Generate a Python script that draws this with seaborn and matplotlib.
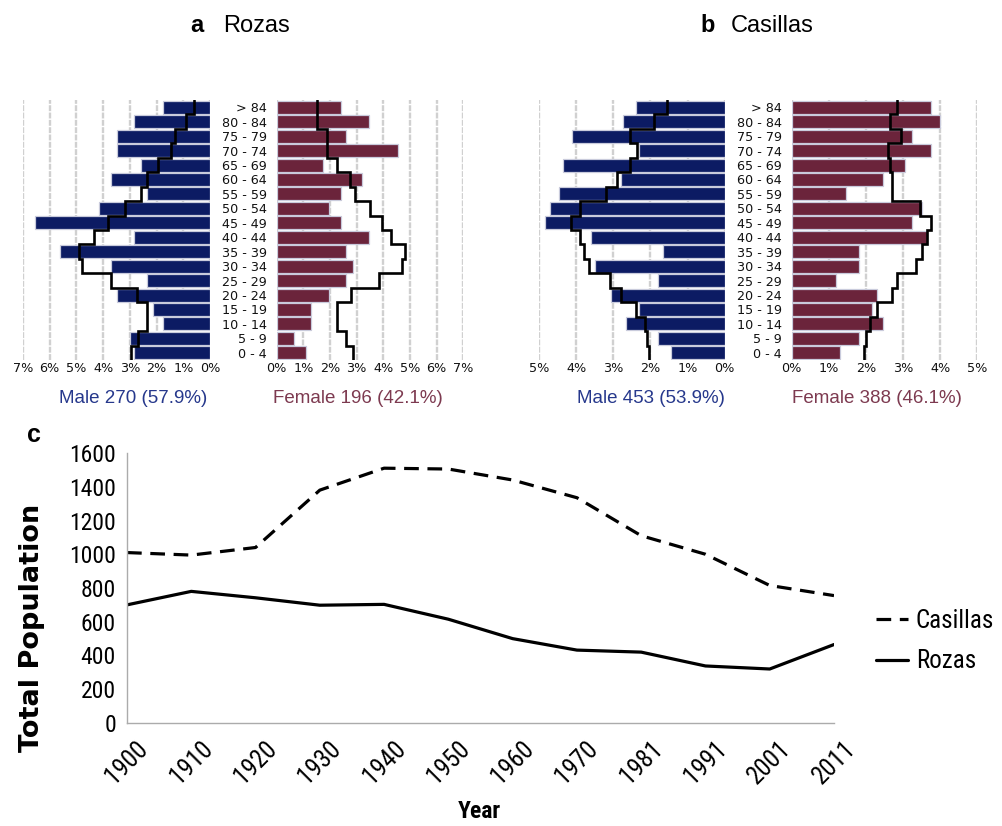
import matplotlib
matplotlib.use("Agg")
import matplotlib.pyplot as plt
import seaborn as sns
import pandas as pd
from matplotlib import font_manager

sns.set_theme(style="white")

available = {f.name for f in font_manager.fontManager.ttflist}


def pick(*names):
    for n in names:
        if n in available:
            return n
    return "DejaVu Sans"


NARROW = pick("Liberation Sans Narrow", "DejaVu Sans Condensed", "Roboto Condensed", "Liberation Sans")
ARIAL = pick("Liberation Sans", "Arial")
plt.rcParams["font.family"] = ["DejaVu Sans"]
plt.rcParams["text.color"] = "black"

# ---- population pyramids (percent of total population) ----
age_groups = ["> 84", "80 - 84", "75 - 79", "70 - 74", "65 - 69", "60 - 64",
              "55 - 59", "50 - 54", "45 - 49", "40 - 44", "35 - 39", "30 - 34",
              "25 - 29", "20 - 24", "15 - 19", "10 - 14", "5 - 9", "0 - 4"]

rozas_male = [1.75, 2.85, 3.5, 3.5, 2.6, 3.7, 2.35, 4.15, 6.55, 2.85, 5.6, 3.7,
              2.35, 3.5, 2.15, 1.75, 3.0, 2.85]
rozas_male_ref = [0.6, 0.9, 1.3, 1.45, 1.95, 2.35, 2.6, 3.2, 3.8, 4.35, 4.9, 4.8,
                  3.7, 2.75, 2.35, 2.35, 2.7, 2.95]
rozas_female = [2.4, 3.45, 2.6, 4.55, 1.75, 3.2, 2.4, 1.95, 2.4, 3.45, 2.6, 2.85,
                2.6, 1.95, 1.3, 1.3, 0.65, 1.1]
rozas_female_ref = [1.5, 1.5, 1.9, 1.9, 2.25, 2.75, 2.95, 3.5, 3.95, 4.3, 4.8, 4.7,
                    3.85, 2.8, 2.25, 2.25, 2.6, 2.85]

casillas_male = [2.4, 2.75, 4.1, 2.3, 4.35, 2.8, 4.45, 4.7, 4.85, 3.6, 1.65, 3.5,
                 1.8, 3.05, 2.3, 2.65, 1.8, 1.45]
casillas_male_ref = [1.55, 1.9, 2.55, 2.35, 2.55, 2.9, 3.2, 3.9, 4.15, 3.9, 3.8, 3.65,
                     3.1, 2.8, 2.4, 2.15, 2.1, 2.05]
casillas_female = [3.75, 4.0, 3.25, 3.75, 3.05, 2.45, 1.45, 3.5, 3.25, 3.65, 1.8, 1.8,
                   1.2, 2.3, 2.15, 2.45, 1.8, 1.3]
casillas_female_ref = [2.85, 2.65, 2.95, 2.6, 2.65, 2.7, 2.7, 3.45, 3.75, 3.65, 3.5, 3.35,
                       2.85, 2.7, 2.3, 2.1, 2.0, 1.95]

# ---- census totals ----
years = ["1900", "1910", "1920", "1930", "1940", "1950", "1960", "1970",
         "1981", "1991", "2001", "2011"]
casillas_total = [1010, 995, 1040, 1380, 1510, 1505, 1440, 1335, 1110, 1000, 815, 755]
rozas_total = [700, 780, 742, 698, 703, 615, 500, 432, 420, 338, 320, 465]

MALE_BAR = "#0c1b63"
FEMALE_BAR = "#6b243b"
MALE_TXT = "#26388c"
FEMALE_TXT = "#7d3a50"
BAR_EDGE = "#c9cbdc"
GRID = "#d0d0d0"

W, H = 1003, 826
fig = plt.figure(figsize=(W / 100, H / 100), dpi=100)


def px_axes(x0, y0, x1, y1):
    return fig.add_axes([x0 / W, 1 - y1 / H, (x1 - x0) / W, (y1 - y0) / H])


def pyramid_side(ax, values, ref, xmax, color, male):
    df = pd.DataFrame({"age": age_groups, "pct": values})
    sns.barplot(data=df, x="pct", y="age", orient="h", color=color, saturation=1,
                width=0.9, edgecolor=BAR_EDGE, linewidth=0.9, ax=ax, zorder=2)
    xs, ys = [], []
    for i, v in enumerate(ref):
        xs += [v, v]
        ys += [i - 0.5, i + 0.5]
    ax.plot(xs, ys, color="black", lw=1.9, zorder=3, solid_joinstyle="miter")
    ticks = list(range(0, xmax + 1))
    ax.set_xticks(ticks)
    ax.set_xticklabels([f"{t}%" for t in ticks])
    ax.set_xlim((xmax, 0) if male else (0, xmax))
    ax.set_ylim(17.5, -0.5)
    ax.set_axisbelow(True)
    ax.xaxis.grid(True, color=GRID, lw=1.7, ls=(0, (2.5, 0.6)), zorder=0)
    ax.yaxis.grid(False)
    for s in ax.spines.values():
        s.set_visible(False)
    ax.set_xlabel("")
    ax.set_ylabel("")
    ax.tick_params(axis="x", length=0, pad=1.5, labelsize=9.2, colors="#111111")
    if male:
        ax.set_yticks([])
    else:
        ax.set_yticks(range(len(age_groups)))
        ax.set_yticklabels(age_groups)
        ax.tick_params(axis="y", length=0, pad=7.0, labelsize=9.2, colors="#111111")


ax_am = px_axes(23, 100, 210, 360)
pyramid_side(ax_am, rozas_male, rozas_male_ref, 7, MALE_BAR, True)
ax_af = px_axes(276.7, 100, 463.3, 360)
pyramid_side(ax_af, rozas_female, rozas_female_ref, 7, FEMALE_BAR, False)
ax_bm = px_axes(539, 100, 724.7, 360)
pyramid_side(ax_bm, casillas_male, casillas_male_ref, 5, MALE_BAR, True)
ax_bf = px_axes(791.7, 100, 977.3, 360)
pyramid_side(ax_bf, casillas_female, casillas_female_ref, 5, FEMALE_BAR, False)

# panel titles
fig.text(190 / W, 1 - 32 / H, "a", fontsize=17, fontweight="bold", family=ARIAL, va="baseline")
fig.text(223 / W, 1 - 32 / H, "Rozas", fontsize=17, family=ARIAL, va="baseline")
fig.text(700 / W, 1 - 32 / H, "b", fontsize=17, fontweight="bold", family=ARIAL, va="baseline")
fig.text(731 / W, 1 - 32 / H, "Casillas", fontsize=17, family=ARIAL, va="baseline")

# sex totals
fig.text(207 / W, 1 - 403 / H, "Male 270 (57.9%)", fontsize=13.5, family=ARIAL,
         color=MALE_TXT, ha="right", va="baseline")
fig.text(273 / W, 1 - 403 / H, "Female 196 (42.1%)", fontsize=13.5, family=ARIAL,
         color=FEMALE_TXT, ha="left", va="baseline")
fig.text(725 / W, 1 - 403 / H, "Male 453 (53.9%)", fontsize=13.5, family=ARIAL,
         color=MALE_TXT, ha="right", va="baseline")
fig.text(792 / W, 1 - 403 / H, "Female 388 (46.1%)", fontsize=13.5, family=ARIAL,
         color=FEMALE_TXT, ha="left", va="baseline")

# ---- panel c: total population over time ----
axc = px_axes(127, 453, 834, 723)
sns.lineplot(x=years, y=casillas_total, color="black", lw=2.3,
             linestyle=(0, (4.6, 2.7)), label="Casillas", ax=axc, sort=False)
sns.lineplot(x=years, y=rozas_total, color="black", lw=2.3,
             label="Rozas", ax=axc, sort=False)
axc.set_xlim(0, len(years) - 1)
axc.set_ylim(0, 1600)
axc.set_yticks(range(0, 1601, 200))
for side in ("top", "right"):
    axc.spines[side].set_visible(False)
for side in ("left", "bottom"):
    axc.spines[side].set_color("#ababab")
    axc.spines[side].set_linewidth(1.0)
axc.tick_params(axis="both", which="major", direction="out", color="#ababab",
                length=5, width=1.0, labelcolor="black")
axc.tick_params(axis="y", pad=3)
axc.tick_params(axis="x", pad=5)
for lab in axc.get_yticklabels():
    lab.set_family(NARROW)
    lab.set_fontsize(17)
for lab in axc.get_xticklabels():
    lab.set_family(NARROW)
    lab.set_fontsize(18)
    lab.set_rotation(45)
    lab.set_ha("center")
axc.set_xlabel("")
axc.set_ylabel("")

fig.text(27 / W, 1 - 442 / H, "c", fontsize=18, fontweight="bold", family=ARIAL, va="baseline")
fig.text(32 / W, 1 - 628 / H, "Total Population", fontsize=19.5, fontweight="bold",
         rotation=90, ha="center", va="center")
fig.text(479 / W, 1 - 811 / H, "Year", fontsize=17, fontweight="bold", family=NARROW,
         ha="center", va="center")

axc.legend(loc="upper left", bbox_to_anchor=(876 / W, 1 - 609 / H),
           bbox_transform=fig.transFigure, frameon=False,
           prop={"family": NARROW, "size": 18}, handlelength=1.3,
           handletextpad=0.3, labelspacing=0.65, borderpad=0, borderaxespad=0)

fig.savefig("out.png", dpi=100)
